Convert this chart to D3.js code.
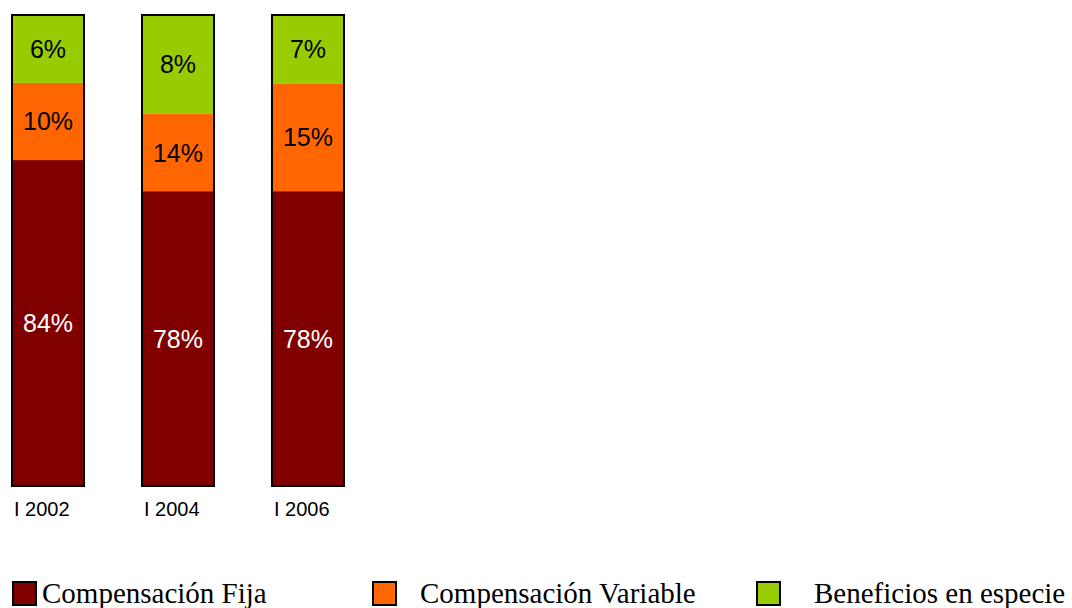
<!DOCTYPE html>
<html>
<head>
<meta charset="utf-8">
<script src="https://cdn.jsdelivr.net/npm/d3@7"></script>
<style>
    body { margin: 0; background: white; }
    svg { display: block; }
</style>
</head>
<body>
<svg id="chart"></svg>
<script>
var width = 1072, height = 608

// categories and series (labels as printed on the bars)
var years = ["I 2002", "I 2004", "I 2006"]
var series = ["Compensación Fija", "Compensación Variable", "Beneficios en especie"]
var fijaLabel = [84, 78, 78]
var variableLabel = [10, 14, 15]
var especieLabel = [6, 8, 7]
// segment heights as drawn in the picture (share of bar, %)
var fijaDrawn = [69.2, 62.6, 62.6]
var variableDrawn = [16.4, 16.4, 22.9]
var especieDrawn = [14.4, 21.0, 14.4]

var colors = ["#800000", "#ff6600", "#99cc00"]
var textColors = ["white", "black", "black"]

var svg = d3.select("#chart")
    .attr("width", width)
    .attr("height", height)

var x = d3.scaleBand()
    .domain(years)
    .range([12, 344])
    .paddingInner(0.446)
    .paddingOuter(0)
    .align(0)

var y = d3.scaleLinear()
    .domain([0, 100])
    .range([486, 15])

var rows = years.map(function(yr, i) {
    return {
        year: yr,
        drawn: [fijaDrawn[i], variableDrawn[i], especieDrawn[i]],
        label: [fijaLabel[i], variableLabel[i], especieLabel[i]]
    }
})

var stack = d3.stack()
    .keys([0, 1, 2])
    .value(function(d, k) { return d.drawn[k] })
var layers = stack(rows)

var g = svg.append("g")

layers.forEach(function(layer, k) {
    g.selectAll(".seg" + k)
        .data(layer)
        .enter()
        .append("rect")
            .attr("class", "seg" + k)
            .attr("x", function(d) { return x(d.data.year) })
            .attr("width", x.bandwidth())
            .attr("y", function(d) { return y(d[1]) })
            .attr("height", function(d) { return y(d[0]) - y(d[1]) })
            .attr("fill", colors[k])

    g.selectAll(".lab" + k)
        .data(layer)
        .enter()
        .append("text")
            .attr("class", "lab" + k)
            .attr("x", function(d) { return x(d.data.year) + x.bandwidth() / 2 })
            .attr("y", function(d) { return (y(d[0]) + y(d[1])) / 2 })
            .attr("dy", "0.36em")
            .attr("text-anchor", "middle")
            .attr("font-family", "'Liberation Sans', Arial, sans-serif")
            .attr("font-size", "25px")
            .attr("fill", textColors[k])
            .text(function(d) { return d.data.label[k] + "%" })
})

// bar outlines
g.selectAll(".outline")
    .data(rows)
    .enter()
    .append("rect")
        .attr("class", "outline")
        .attr("x", function(d) { return x(d.year) })
        .attr("width", x.bandwidth())
        .attr("y", y(100))
        .attr("height", y(0) - y(100))
        .attr("fill", "none")
        .attr("stroke", "black")
        .attr("stroke-width", 2)

// category labels
g.selectAll(".tick")
    .data(years)
    .enter()
    .append("text")
        .attr("class", "tick")
        .attr("x", function(d) { return x(d) + 2 })
        .attr("y", 516)
        .attr("font-family", "'Liberation Sans', Arial, sans-serif")
        .attr("font-size", "20px")
        .attr("fill", "black")
        .text(function(d) { return d })

// legend
var legendX = [12, 372, 756]
var legendTextX = [42, 420, 814]
var legend = svg.append("g")
series.forEach(function(s, k) {
    legend.append("rect")
        .attr("x", legendX[k] + 1)
        .attr("y", 582)
        .attr("width", 23)
        .attr("height", 23)
        .attr("fill", colors[k])
        .attr("stroke", "black")
        .attr("stroke-width", 2)
    legend.append("text")
        .attr("x", legendTextX[k])
        .attr("y", 603)
        .attr("font-family", "'Liberation Serif', 'Times New Roman', serif")
        .attr("font-size", "29px")
        .attr("fill", "black")
        .text(s)
})
</script>
</body>
</html>
